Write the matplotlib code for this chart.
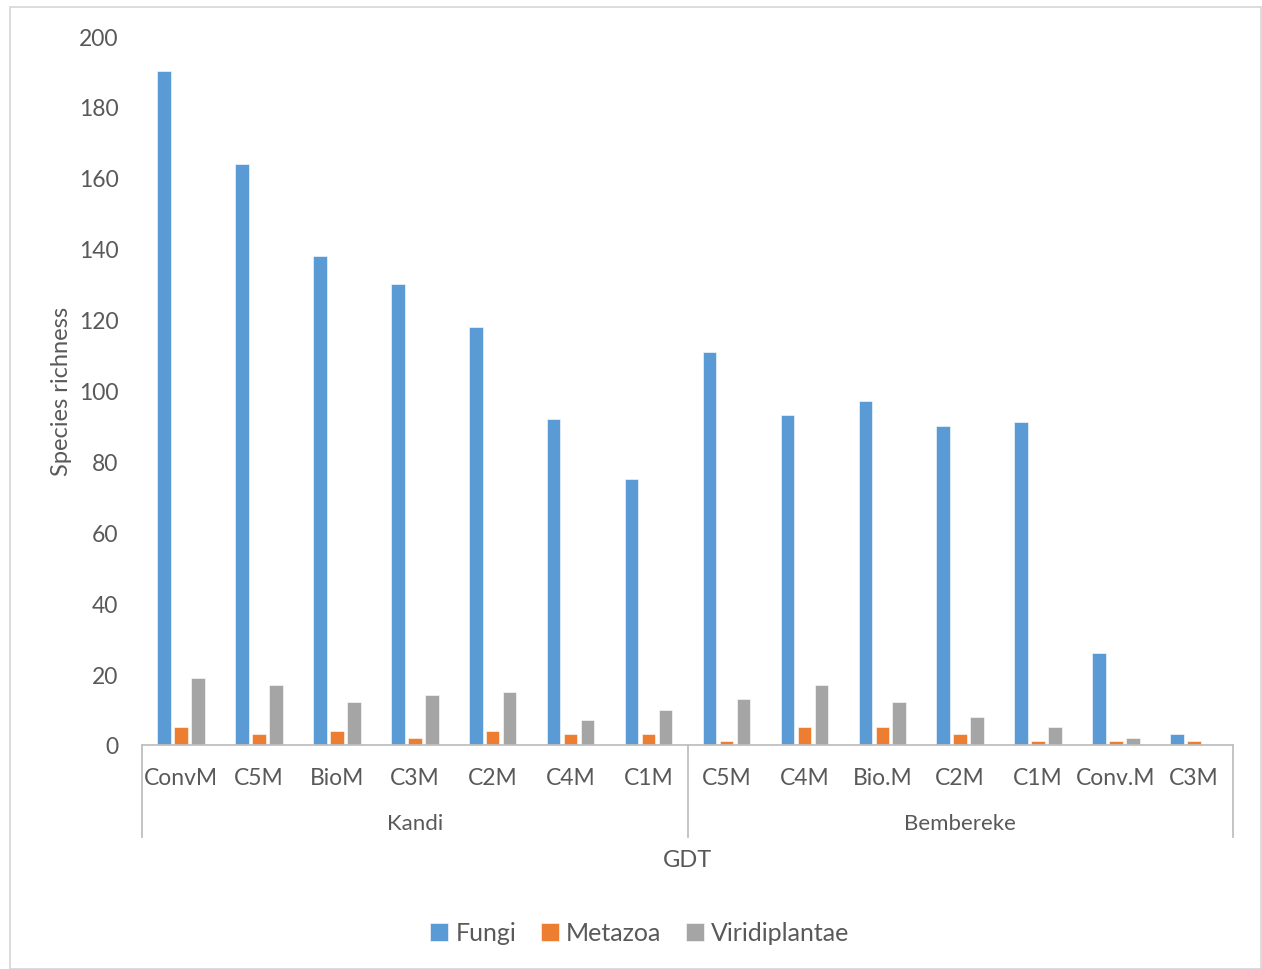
import numpy as np
import matplotlib.pyplot as plt
from matplotlib.patches import Rectangle

# data
treatments = ["ConvM", "C5M", "BioM", "C3M", "C2M", "C4M", "C1M",
              "C5M", "C4M", "Bio.M", "C2M", "C1M", "Conv.M", "C3M"]
sites = ["Kandi", "Bembereke"]
site_sizes = [7, 7]
fungi = [190, 164, 138, 130, 118, 92, 75, 111, 93, 97, 90, 91, 26, 3]
metazoa = [5, 3, 4, 2, 4, 3, 3, 1, 5, 5, 3, 1, 1, 1]
viridiplantae = [19, 17, 12, 14, 15, 7, 10, 13, 17, 12, 8, 5, 2, 0]

plt.rcParams['font.family'] = ['Lato', 'DejaVu Sans']
txt = '#595959'
axcol = '#BFBFBF'

fig = plt.figure(figsize=(12.62, 9.70), dpi=100)
ax = fig.add_axes([142/1262, 1-746/970, (1233-142)/1262, 709/970])

x = np.arange(len(treatments))
w = 0.175
off = 0.218
ax.bar(x - off, fungi, w, color='#5B9BD5', edgecolor='white', linewidth=0.4, label='Fungi')
ax.bar(x, metazoa, w, color='#ED7D31', edgecolor='white', linewidth=0.4, label='Metazoa')
ax.bar(x + off, viridiplantae, w, color='#A5A5A5', edgecolor='white', linewidth=0.4, label='Viridiplantae')

ax.set_xlim(-0.5, len(treatments) - 0.5)
ax.set_ylim(0, 200)
ax.set_yticks(range(0, 201, 20))
ax.tick_params(axis='y', length=0, pad=17, labelsize=16.5, labelcolor=txt)
ax.set_xticks(x)
ax.set_xticklabels(treatments)
ax.tick_params(axis='x', length=0, pad=16, labelsize=16.5, labelcolor=txt)

for s in ['top', 'right', 'left']:
    ax.spines[s].set_visible(False)
ax.spines['bottom'].set_color(axcol)
ax.spines['bottom'].set_linewidth(1.3)

# group separators and labels under the axis
tr = ax.get_xaxis_transform()
bounds = np.concatenate([[0], np.cumsum(site_sizes)]) - 0.5
for b in bounds:
    ax.plot([b, b], [0, -92/709], transform=tr, color=axcol, lw=1.3, clip_on=False)
for i, name in enumerate(sites):
    ax.text((bounds[i] + bounds[i+1]) / 2, -78/709, name, transform=tr,
            ha='center', va='center', fontsize=16, color=txt)

ax.text(0.5, -115/709, 'GDT', transform=ax.transAxes, ha='center', va='center',
        fontsize=17, color=txt)
ax.set_ylabel('Species richness', fontsize=17, color=txt, labelpad=5)

leg = fig.legend(loc='center', bbox_to_anchor=(640/1262, 1-934/970), ncol=3,
                 frameon=False, fontsize=18, handlelength=0.7, handleheight=0.7,
                 handletextpad=0.3, columnspacing=1.0)
for t in leg.get_texts():
    t.set_color(txt)

fig.patches.append(Rectangle((10/1262, 0), 1251/1262, 1-8/970, transform=fig.transFigure,
                             fill=False, edgecolor='#D9D9D9', lw=1.3))

fig.savefig('out.png', dpi=100)
